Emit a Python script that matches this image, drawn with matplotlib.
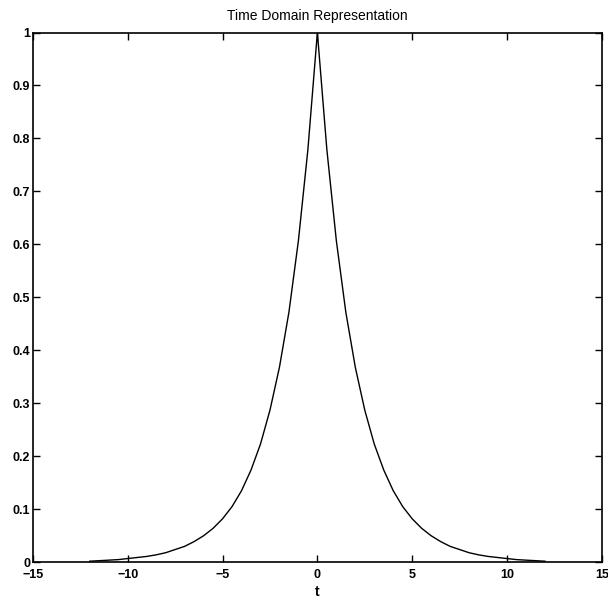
import matplotlib
matplotlib.use("Agg")
import matplotlib.pyplot as plt

# Values (two-sided decaying pulse)
t_values = [-12.0, -11.5, -11.0, -10.5, -10.0, -9.5, -9.0, -8.5, -8.0, -7.5, -7.0, -6.5,
            -6.0, -5.5, -5.0, -4.5, -4.0, -3.5, -3.0, -2.5, -2.0, -1.5, -1.0, -0.5,
            0.0, 0.5, 1.0, 1.5, 2.0, 2.5, 3.0, 3.5, 4.0, 4.5, 5.0, 5.5, 6.0, 6.5,
            7.0, 7.5, 8.0, 8.5, 9.0, 9.5, 10.0, 10.5, 11.0, 11.5, 12.0]
x_values = [0.002, 0.003, 0.004, 0.005, 0.007, 0.009, 0.011, 0.014, 0.018, 0.024, 0.030, 0.039,
            0.050, 0.064, 0.082, 0.105, 0.135, 0.174, 0.223, 0.287, 0.368, 0.472, 0.607, 0.779,
            1.000, 0.779, 0.607, 0.472, 0.368, 0.287, 0.223, 0.174, 0.135, 0.105, 0.082, 0.064,
            0.050, 0.039, 0.030, 0.024, 0.018, 0.014, 0.011, 0.009, 0.007, 0.005, 0.004, 0.003, 0.002]

x_ticks = [-15, -10, -5, 0, 5, 10, 15]
y_ticks = [0, 0.1, 0.2, 0.3, 0.4, 0.5, 0.6, 0.7, 0.8, 0.9, 1]
y_tick_labels = ["0", "0.1", "0.2", "0.3", "0.4", "0.5", "0.6", "0.7", "0.8", "0.9", "1"]
x_tick_labels = ["\u221215", "\u221210", "\u22125", "0", "5", "10", "15"]

plt.rcParams['font.family'] = ['Liberation Sans', 'DejaVu Sans']

fig = plt.figure(figsize=(6.08, 6.02), dpi=100)
ax = fig.add_axes([0.054, 0.066, 0.936, 0.880])
ax.plot(t_values, x_values, color='black', linewidth=1.0)
ax.set_xlim(-15, 15)
ax.set_ylim(0, 1)
ax.set_xticks(x_ticks)
ax.set_xticklabels(x_tick_labels)
ax.set_yticks(y_ticks)
ax.set_yticklabels(y_tick_labels)
ax.tick_params(direction='in', length=5, width=1, top=True, right=True,
               labelsize=9, pad=2, colors='black')
ax.tick_params(axis='x', pad=5)
for lab in ax.get_xticklabels() + ax.get_yticklabels():
    lab.set_fontweight('bold')
for s in ax.spines.values():
    s.set_linewidth(1.2)
ax.set_title("Time Domain Representation", fontsize=10, pad=9)
ax.set_xlabel("t", fontsize=10, fontweight='bold', labelpad=3)

fig.savefig("out.png", dpi=100)
